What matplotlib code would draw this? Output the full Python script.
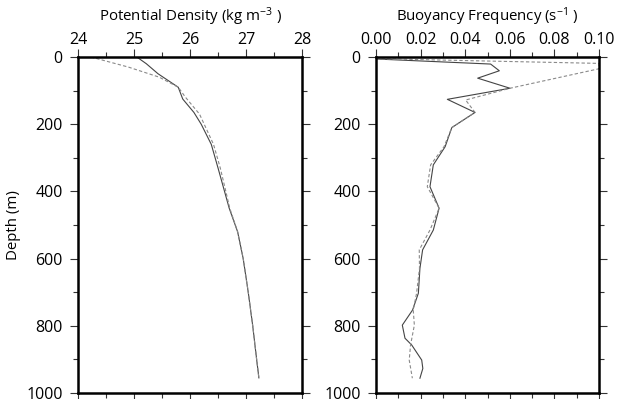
import numpy as np
import matplotlib
matplotlib.use("Agg")
import matplotlib.pyplot as plt
from matplotlib.ticker import MultipleLocator

plt.rcParams['font.family'] = ['Open Sans', 'DejaVu Sans']
plt.rcParams['mathtext.default'] = 'regular'

# potential density profiles (depth m, kg m-3)
dens_depth_a = [0, 20, 50, 90, 125, 165, 200, 260, 330, 390, 450, 520, 600, 700, 800, 900, 955]
dens_a = [25.05, 25.22, 25.43, 25.79, 25.87, 26.07, 26.2, 26.38, 26.5, 26.6, 26.7, 26.85, 26.95, 27.04, 27.12, 27.19, 27.23]
dens_depth_b = [0, 30, 60, 90, 120, 170, 260, 330, 400, 450, 520, 600, 700, 800, 900, 955]
dens_b = [24.23, 24.9, 25.45, 25.79, 25.92, 26.17, 26.42, 26.54, 26.64, 26.71, 26.85, 26.95, 27.04, 27.12, 27.19, 27.23]

# buoyancy frequency profiles (depth m, s-1)
n_depth_a = [6, 21, 41, 63, 93, 126, 165, 210, 267, 321, 386, 450, 515, 574, 629, 703, 753, 798, 837, 857, 902, 927, 956]
n_a = [0.0003, 0.0514, 0.0553, 0.0456, 0.0601, 0.032, 0.0444, 0.034, 0.031, 0.0257, 0.0242, 0.0283, 0.0257, 0.0209, 0.0197, 0.019, 0.0164, 0.0118, 0.013, 0.016, 0.0205, 0.021, 0.0197]
n_depth_b = [5, 19, 35, 93, 128, 165, 210, 267, 321, 386, 450, 515, 574, 629, 703, 753, 798, 857, 902, 956]
n_b = [0.0, 0.1, 0.1, 0.0601, 0.0402, 0.0444, 0.034, 0.0305, 0.0245, 0.023, 0.0283, 0.0242, 0.0194, 0.0195, 0.0182, 0.0167, 0.0172, 0.0155, 0.0149, 0.0163]

fig = plt.figure(figsize=(6.17, 3.99), dpi=100)
ax1 = fig.add_axes([78/617, 1-393/399, 224/617, 336/399])
ax2 = fig.add_axes([376/617, 1-393/399, 223/617, 336/399])

ax1.plot(dens_a, dens_depth_a, color='#444444', lw=0.8)
ax1.plot(dens_b, dens_depth_b, color='#8a8a8a', lw=0.8, ls=(0, (3, 2)))
ax2.plot(n_a, n_depth_a, color='#444444', lw=0.8)
ax2.plot(n_b, n_depth_b, color='#8a8a8a', lw=0.8, ls=(0, (3, 2)))

ax1.set_xlim(24, 28)
ax1.xaxis.set_major_locator(MultipleLocator(1))
ax1.xaxis.set_minor_locator(MultipleLocator(0.5))
ax1.set_xlabel('Potential Density (kg m$^{-3}$ )', fontsize=10.8, labelpad=8)
ax1.set_ylabel('Depth (m)', fontsize=10.8, labelpad=4)

ax2.set_xlim(0, 0.1)
ax2.xaxis.set_major_locator(MultipleLocator(0.02))
ax2.xaxis.set_minor_locator(MultipleLocator(0.01))
ax2.xaxis.set_major_formatter(plt.FormatStrFormatter('%.2f'))
ax2.set_xlabel('Buoyancy Frequency (s$^{-1}$ )', fontsize=10.8, labelpad=8)

for ax in (ax1, ax2):
    ax.set_ylim(1000, 0)
    ax.yaxis.set_major_locator(MultipleLocator(200))
    ax.yaxis.set_minor_locator(MultipleLocator(100))
    ax.xaxis.set_label_position('top')
    ax.tick_params(which='both', direction='out', top=True, bottom=True, left=True, right=True,
                   labeltop=True, labelbottom=False, labelleft=True, labelright=False,
                   width=0.8, color='#333333', labelsize=11.5)
    ax.tick_params(which='major', length=6, pad=5)
    ax.tick_params(axis='x', which='major', pad=0.5)
    ax.tick_params(which='minor', length=3.5)
    for s in ax.spines.values():
        s.set_linewidth(1.8)

fig.savefig('out.png', dpi=100)
